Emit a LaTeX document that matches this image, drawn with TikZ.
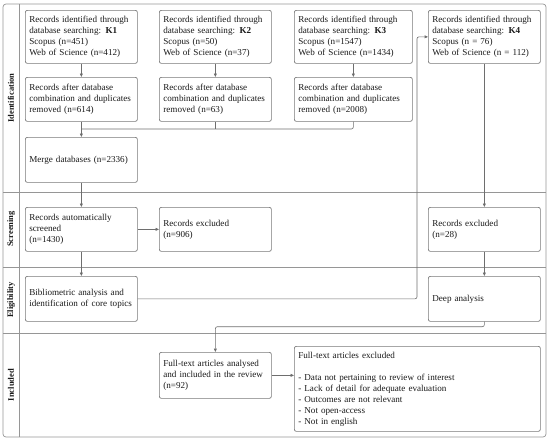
\documentclass[tikz,border=0pt]{standalone}
\usepackage{fontspec}
\setmainfont{Liberation Serif}
\usetikzlibrary{arrows.meta}
\definecolor{boxgray}{RGB}{120,120,120}
\definecolor{linegray}{RGB}{110,110,110}
\definecolor{lanegray}{RGB}{150,150,150}
\begin{document}
\begin{tikzpicture}[x=1pt,y=-1pt,
  box/.style={draw=boxgray, line width=0.7pt, rounded corners=2pt, anchor=north west,
    align=left, inner xsep=4pt, inner ysep=2pt, font=\fontsize{9.1}{11}\selectfont, text=black!90},
  w112/.style={minimum width=112pt, text width=104pt},
  w118/.style={minimum width=118pt, text width=110pt},
  conn/.style={draw=linegray, line width=0.6pt},
  arr/.style={conn, -{Triangle[length=3.5pt,width=3pt]}},
  lane/.style={draw=lanegray, line width=0.7pt},
  lanelabel/.style={rotate=90, font=\fontsize{8.5}{10}\selectfont\bfseries, text=black!90}]
\useasboundingbox (0,0) rectangle (550,442);
% lanes
\draw[lane, rounded corners=3pt] (3,4) rectangle (546,437);
\draw[lane] (19,4) -- (19,437);
\draw[lane] (3,192) -- (546,192);
\draw[lane] (3,267) -- (546,267);
\draw[lane] (3,333) -- (546,333);
\node[lanelabel] (L1) at (11,98) {Identification};
\node[lanelabel] (L2) at (11,229) {Screening};
\node[lanelabel] (L3) at (11,300) {Eligibility};
\node[lanelabel] (L4) at (11,385) {Included};
% boxes
\node[box, w112, minimum height=53pt] (K1) at (25,10) {Records identified through\\database searching: \textbf{K1}\\Scopus (n=451)\\Web of Science (n=412)};
\node[box, w112, minimum height=53pt] (K2) at (159,10) {Records identified through\\database searching: \textbf{K2}\\Scopus (n=50)\\Web of Science (n=37)};
\node[box, w118, minimum height=53pt] (K3) at (294,10) {Records identified through\\database searching: \textbf{K3}\\Scopus (n=1547)\\Web of Science (n=1434)};
\node[box, w112, minimum height=53pt] (K4) at (428,10) {Records identified through\\database searching: \textbf{K4}\\Scopus (n = 76)\\Web of Science (n = 112)};
\node[box, w112, minimum height=44pt] (D1) at (25,77) {Records after database\\combination and duplicates\\removed (n=614)};
\node[box, w112, minimum height=44pt] (D2) at (159,77) {Records after database\\combination and duplicates\\removed (n=63)};
\node[box, w118, minimum height=44pt] (D3) at (294,77) {Records after database\\combination and duplicates\\removed (n=2008)};
\node[box, w112, minimum height=45pt] (M) at (25,137) {Merge databases (n=2336)};
\node[box, w112, minimum height=44pt] (A) at (25,207) {Records automatically\\screened\\(n=1430)};
\node[box, w112, minimum height=44pt] (E1) at (159,207) {Records excluded\\(n=906)};
\node[box, w112, minimum height=44pt] (E2) at (428,207) {Records excluded\\(n=28)};
\node[box, w112, minimum height=45pt] (B) at (25,276) {Bibliometric analysis and\\identification of core topics};
\node[box, w112, minimum height=45pt] (DA) at (428,276) {Deep analysis};
\node[box, w112, minimum height=46pt] (I) at (159,352) {Full-text articles analysed\\and included in the review\\(n=92)};
\node[box, minimum width=246pt, text width=238pt, minimum height=85pt] (X) at (294,346) {Full-text articles excluded\\[11pt]- Data not pertaining to review of interest\\- Lack of detail for adequate evaluation\\- Outcomes are not relevant\\- Not open-access\\- Not in english};
% connectors
\coordinate (j) at (81,129);
\coordinate (bx) at (417,0);
\draw[arr] (K1.south) -- (D1.north);
\draw[arr] (K2.south) -- (D2.north);
\draw[arr] (K3.south) -- (D3.north);
\draw[conn] (D2.south) -- (D2.south |- j);
\draw[conn, rounded corners=2pt] (D3.south) |- (j);
\draw[arr] (D1.south) -- (M.north);
\draw[arr] (M.south) -- (A.north);
\draw[arr] (A.east) -- (E1.west);
\draw[arr] (A.south) -- (B.north);
\draw[arr, rounded corners=2pt] (B.east) -- (B.east -| bx) |- (K4.west);
\draw[arr] (K4.south) -- (E2.north);
\draw[arr] (E2.south) -- (DA.north);
\draw[arr, rounded corners=2pt] (DA.south) -- ++(0,5) -| (I.north);
\draw[arr] (I.east) -- (I.east -| X.west);
\end{tikzpicture}
\end{document}
